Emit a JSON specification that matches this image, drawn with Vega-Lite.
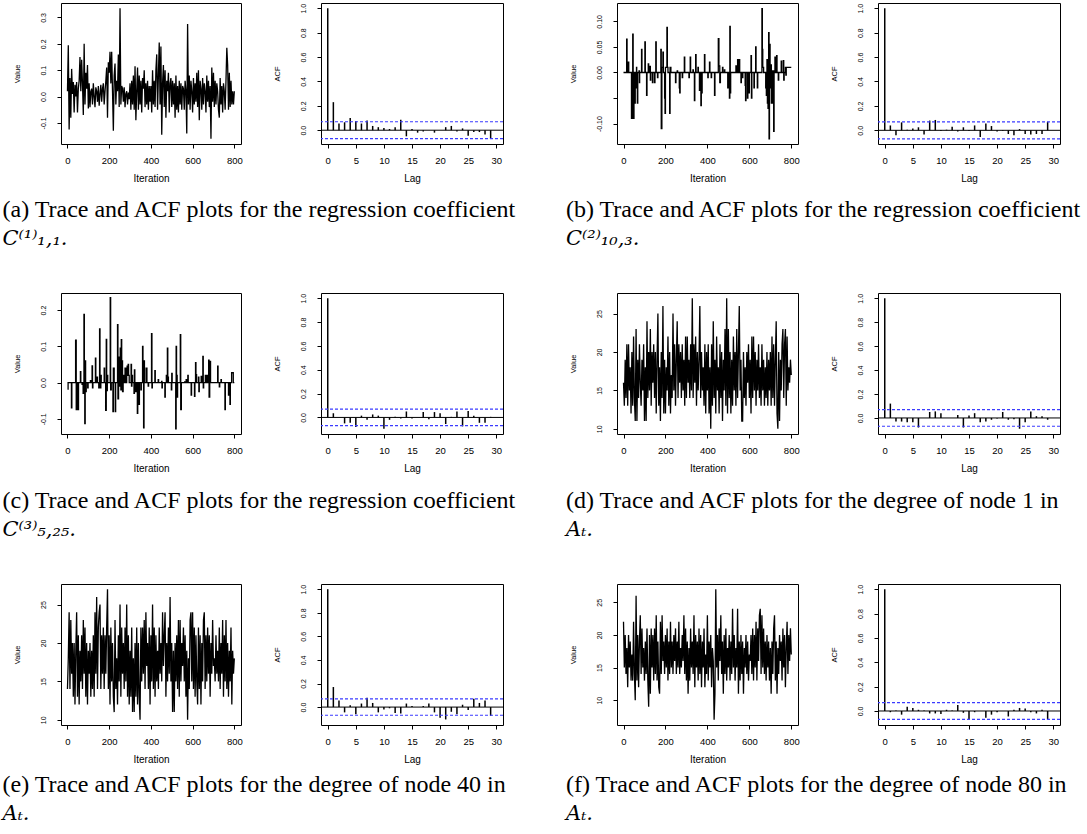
{"$schema":"https://vega.github.io/schema/vega-lite/v6.json","background":"white","padding":{"left":2,"top":2,"right":2,"bottom":2},"columns":2,"align":"each","spacing":{"row":43,"column":47},
"concat":[
{"hconcat":[
{"width":180,"height":141,"data":{"name":"ta"},"mark":{"type":"line","color":"black","strokeWidth":1.3},"encoding":{"x":{"field":"i","type":"quantitative","scale":{"domain":[-31,832],"nice":false,"zero":false},"axis":{"title":"Iteration","values":[0,200,400,600,800]}},"y":{"field":"v","type":"quantitative","scale":{"domain":[-0.18,0.355],"nice":false,"zero":false},"axis":{"title":"Value","values":[-0.1,0,0.1,0.2,0.3],"format":".1f","labelExpr":"replace(datum.label,'−','-')"}}}},
{"width":182,"height":141,"resolve":{"axis":{"y":"independent"}},"layer":[
{"data":{"name":"aa"},"mark":{"type":"rule","color":"black","strokeWidth":1.5},"encoding":{"x":{"field":"lag","type":"quantitative","scale":{"domain":[-1.2,31.2],"nice":false,"zero":false},"axis":{"title":"Lag","values":[0,5,10,15,20,25,30]}},"y":{"field":"r","type":"quantitative","scale":{"domain":[-0.113,1.043],"nice":false,"zero":false},"axis":{"title":"ACF","values":[0,0.2,0.4,0.6,0.8,1],"format":".1f","labelOverlap":false}},"y2":{"datum":0}}},
{"data":{"values":[{"c":0.0693},{"c":-0.0693}]},"mark":{"type":"rule","color":"#3b3bff","strokeDash":[3,2],"strokeWidth":1.2},"encoding":{"y":{"field":"c","type":"quantitative","scale":{"domain":[-0.113,1.043],"nice":false,"zero":false},"axis":null}}},
{"data":{"values":[{}]},"mark":{"type":"rule","color":"black","strokeWidth":1},"encoding":{"y":{"datum":0,"type":"quantitative","scale":{"domain":[-0.113,1.043],"nice":false,"zero":false},"axis":null}}}]}],
"spacing":29,"title":{"text":"(a) Trace and ACF plots for the regression coefficient","subtitle":"C⁽¹⁾₁,₁.","orient":"bottom","anchor":"start","dx":-10,"offset":14}},
{"hconcat":[
{"width":181,"height":141,"data":{"name":"tb"},"mark":{"type":"line","color":"black","strokeWidth":1.3,"interpolate":"step-after"},"encoding":{"x":{"field":"i","type":"quantitative","scale":{"domain":[-31,832],"nice":false,"zero":false},"axis":{"title":"Iteration","values":[0,200,400,600,800]}},"y":{"field":"v","type":"quantitative","scale":{"domain":[-0.14,0.136],"nice":false,"zero":false},"axis":{"title":"Value","values":[-0.1,-0.05,0,0.05,0.1],"format":".2f","labelExpr":"datum.value == -0.05 ? '' : replace(datum.label,'−','-')"}}}},
{"width":182,"height":141,"resolve":{"axis":{"y":"independent"}},"layer":[
{"data":{"name":"ab"},"mark":{"type":"rule","color":"black","strokeWidth":1.5},"encoding":{"x":{"field":"lag","type":"quantitative","scale":{"domain":[-1.2,31.2],"nice":false,"zero":false},"axis":{"title":"Lag","values":[0,5,10,15,20,25,30]}},"y":{"field":"r","type":"quantitative","scale":{"domain":[-0.112,1.043],"nice":false,"zero":false},"axis":{"title":"ACF","values":[0,0.2,0.4,0.6,0.8,1],"format":".1f","labelOverlap":false}},"y2":{"datum":0}}},
{"data":{"values":[{"c":0.0693},{"c":-0.0693}]},"mark":{"type":"rule","color":"#3b3bff","strokeDash":[3,2],"strokeWidth":1.2},"encoding":{"y":{"field":"c","type":"quantitative","scale":{"domain":[-0.112,1.043],"nice":false,"zero":false},"axis":null}}},
{"data":{"values":[{}]},"mark":{"type":"rule","color":"black","strokeWidth":1},"encoding":{"y":{"datum":0,"type":"quantitative","scale":{"domain":[-0.112,1.043],"nice":false,"zero":false},"axis":null}}}]}],
"spacing":29,"title":{"text":"(b) Trace and ACF plots for the regression coefficient","subtitle":"C⁽²⁾₁₀,₃.","orient":"bottom","anchor":"start","dx":-2.5,"offset":14}},
{"hconcat":[
{"width":180,"height":141,"data":{"name":"tc"},"mark":{"type":"line","color":"black","strokeWidth":1.3,"interpolate":"step-after"},"encoding":{"x":{"field":"i","type":"quantitative","scale":{"domain":[-31,832],"nice":false,"zero":false},"axis":{"title":"Iteration","values":[0,200,400,600,800]}},"y":{"field":"v","type":"quantitative","scale":{"domain":[-0.142,0.247],"nice":false,"zero":false},"axis":{"title":"Value","values":[-0.1,0,0.1,0.2],"format":".1f","labelExpr":"replace(datum.label,'−','-')"}}}},
{"width":182,"height":141,"resolve":{"axis":{"y":"independent"}},"layer":[
{"data":{"name":"ac"},"mark":{"type":"rule","color":"black","strokeWidth":1.5},"encoding":{"x":{"field":"lag","type":"quantitative","scale":{"domain":[-1.2,31.2],"nice":false,"zero":false},"axis":{"title":"Lag","values":[0,5,10,15,20,25,30]}},"y":{"field":"r","type":"quantitative","scale":{"domain":[-0.139,1.044],"nice":false,"zero":false},"axis":{"title":"ACF","values":[0,0.2,0.4,0.6,0.8,1],"format":".1f","labelOverlap":false}},"y2":{"datum":0}}},
{"data":{"values":[{"c":0.0693},{"c":-0.0693}]},"mark":{"type":"rule","color":"#3b3bff","strokeDash":[3,2],"strokeWidth":1.2},"encoding":{"y":{"field":"c","type":"quantitative","scale":{"domain":[-0.139,1.044],"nice":false,"zero":false},"axis":null}}},
{"data":{"values":[{}]},"mark":{"type":"rule","color":"black","strokeWidth":1},"encoding":{"y":{"datum":0,"type":"quantitative","scale":{"domain":[-0.139,1.044],"nice":false,"zero":false},"axis":null}}}]}],
"spacing":29,"title":{"text":"(c) Trace and ACF plots for the regression coefficient","subtitle":"C⁽³⁾₅,₂₅.","orient":"bottom","anchor":"start","dx":-10,"offset":15}},
{"hconcat":[
{"width":181,"height":141,"data":{"name":"td"},"mark":{"type":"line","color":"black","strokeWidth":1.3},"encoding":{"x":{"field":"i","type":"quantitative","scale":{"domain":[-31,832],"nice":false,"zero":false},"axis":{"title":"Iteration","values":[0,200,400,600,800]}},"y":{"field":"v","type":"quantitative","scale":{"domain":[9.32,27.68],"nice":false,"zero":false},"axis":{"title":"Value","values":[10,15,20,25]}}}},
{"width":182,"height":141,"resolve":{"axis":{"y":"independent"}},"layer":[
{"data":{"name":"ad"},"mark":{"type":"rule","color":"black","strokeWidth":1.5},"encoding":{"x":{"field":"lag","type":"quantitative","scale":{"domain":[-1.2,31.2],"nice":false,"zero":false},"axis":{"title":"Lag","values":[0,5,10,15,20,25,30]}},"y":{"field":"r","type":"quantitative","scale":{"domain":[-0.134,1.044],"nice":false,"zero":false},"axis":{"title":"ACF","values":[0,0.2,0.4,0.6,0.8,1],"format":".1f","labelOverlap":false}},"y2":{"datum":0}}},
{"data":{"values":[{"c":0.0693},{"c":-0.0693}]},"mark":{"type":"rule","color":"#3b3bff","strokeDash":[3,2],"strokeWidth":1.2},"encoding":{"y":{"field":"c","type":"quantitative","scale":{"domain":[-0.134,1.044],"nice":false,"zero":false},"axis":null}}},
{"data":{"values":[{}]},"mark":{"type":"rule","color":"black","strokeWidth":1},"encoding":{"y":{"datum":0,"type":"quantitative","scale":{"domain":[-0.134,1.044],"nice":false,"zero":false},"axis":null}}}]}],
"spacing":29,"title":{"text":"(d) Trace and ACF plots for the degree of node 1 in","subtitle":"Aₜ.","orient":"bottom","anchor":"start","dx":-2.5,"offset":15}},
{"hconcat":[
{"width":180,"height":141,"data":{"name":"te"},"mark":{"type":"line","color":"black","strokeWidth":1.3},"encoding":{"x":{"field":"i","type":"quantitative","scale":{"domain":[-31,832],"nice":false,"zero":false},"axis":{"title":"Iteration","values":[0,200,400,600,800]}},"y":{"field":"v","type":"quantitative","scale":{"domain":[9.32,27.68],"nice":false,"zero":false},"axis":{"title":"Value","values":[10,15,20,25]}}}},
{"width":182,"height":141,"resolve":{"axis":{"y":"independent"}},"layer":[
{"data":{"name":"ae"},"mark":{"type":"rule","color":"black","strokeWidth":1.5},"encoding":{"x":{"field":"lag","type":"quantitative","scale":{"domain":[-1.2,31.2],"nice":false,"zero":false},"axis":{"title":"Lag","values":[0,5,10,15,20,25,30]}},"y":{"field":"r","type":"quantitative","scale":{"domain":[-0.152,1.044],"nice":false,"zero":false},"axis":{"title":"ACF","values":[0,0.2,0.4,0.6,0.8,1],"format":".1f","labelOverlap":false}},"y2":{"datum":0}}},
{"data":{"values":[{"c":0.0693},{"c":-0.0693}]},"mark":{"type":"rule","color":"#3b3bff","strokeDash":[3,2],"strokeWidth":1.2},"encoding":{"y":{"field":"c","type":"quantitative","scale":{"domain":[-0.152,1.044],"nice":false,"zero":false},"axis":null}}},
{"data":{"values":[{}]},"mark":{"type":"rule","color":"black","strokeWidth":1},"encoding":{"y":{"datum":0,"type":"quantitative","scale":{"domain":[-0.152,1.044],"nice":false,"zero":false},"axis":null}}}]}],
"spacing":29,"title":{"text":"(e) Trace and ACF plots for the degree of node 40 in","subtitle":"Aₜ.","orient":"bottom","anchor":"start","dx":-10,"offset":8}},
{"hconcat":[
{"width":181,"height":141,"data":{"name":"tf"},"mark":{"type":"line","color":"black","strokeWidth":1.3},"encoding":{"x":{"field":"i","type":"quantitative","scale":{"domain":[-31,832],"nice":false,"zero":false},"axis":{"title":"Iteration","values":[0,200,400,600,800]}},"y":{"field":"v","type":"quantitative","scale":{"domain":[6.2,27.8],"nice":false,"zero":false},"axis":{"title":"Value","values":[10,15,20,25]}}}},
{"width":182,"height":141,"resolve":{"axis":{"y":"independent"}},"layer":[
{"data":{"name":"af"},"mark":{"type":"rule","color":"black","strokeWidth":1.5},"encoding":{"x":{"field":"lag","type":"quantitative","scale":{"domain":[-1.2,31.2],"nice":false,"zero":false},"axis":{"title":"Lag","values":[0,5,10,15,20,25,30]}},"y":{"field":"r","type":"quantitative","scale":{"domain":[-0.115,1.043],"nice":false,"zero":false},"axis":{"title":"ACF","values":[0,0.2,0.4,0.6,0.8,1],"format":".1f","labelOverlap":false}},"y2":{"datum":0}}},
{"data":{"values":[{"c":0.0693},{"c":-0.0693}]},"mark":{"type":"rule","color":"#3b3bff","strokeDash":[3,2],"strokeWidth":1.2},"encoding":{"y":{"field":"c","type":"quantitative","scale":{"domain":[-0.115,1.043],"nice":false,"zero":false},"axis":null}}},
{"data":{"values":[{}]},"mark":{"type":"rule","color":"black","strokeWidth":1},"encoding":{"y":{"datum":0,"type":"quantitative","scale":{"domain":[-0.115,1.043],"nice":false,"zero":false},"axis":null}}}]}],
"spacing":29,"title":{"text":"(f) Trace and ACF plots for the degree of node 80 in","subtitle":"Aₜ.","orient":"bottom","anchor":"start","dx":-2.5,"offset":8}}
],
"datasets":{
"ta":[{"i":0,"v":0.02},{"i":4,"v":0.195},{"i":8,"v":-0.125},{"i":12,"v":0.07},{"i":16,"v":-0.08},{"i":20,"v":0.105},{"i":24,"v":0.01},{"i":28,"v":0.055},{"i":32,"v":-0.06},{"i":36,"v":0.045},{"i":40,"v":0.0},{"i":44,"v":0.055},{"i":48,"v":-0.06},{"i":52,"v":0.03},{"i":56,"v":0.06},{"i":60,"v":0.15},{"i":64,"v":0.02},{"i":68,"v":0.14},{"i":72,"v":0.05},{"i":76,"v":-0.07},{"i":80,"v":0.2},{"i":84,"v":-0.03},{"i":88,"v":0.09},{"i":92,"v":0.03},{"i":96,"v":0.12},{"i":100,"v":-0.045},{"i":104,"v":0.05},{"i":108,"v":-0.04},{"i":112,"v":0.02},{"i":116,"v":0.03},{"i":120,"v":-0.03},{"i":124,"v":0.05},{"i":128,"v":0.0},{"i":132,"v":-0.04},{"i":136,"v":0.035},{"i":140,"v":0.02},{"i":144,"v":-0.02},{"i":148,"v":0.04},{"i":152,"v":-0.035},{"i":156,"v":0.01},{"i":160,"v":0.045},{"i":164,"v":-0.02},{"i":168,"v":0.03},{"i":172,"v":0.05},{"i":176,"v":-0.03},{"i":180,"v":0.02},{"i":184,"v":0.06},{"i":188,"v":0.11},{"i":192,"v":-0.08},{"i":196,"v":0.13},{"i":200,"v":0.09},{"i":204,"v":0.17},{"i":208,"v":0.05},{"i":212,"v":0.17},{"i":216,"v":0.02},{"i":220,"v":-0.13},{"i":224,"v":0.08},{"i":228,"v":0.125},{"i":232,"v":-0.03},{"i":236,"v":0.06},{"i":240,"v":0.02},{"i":244,"v":0.16},{"i":248,"v":-0.04},{"i":252,"v":0.335},{"i":256,"v":-0.03},{"i":260,"v":0.04},{"i":264,"v":0.03},{"i":268,"v":-0.02},{"i":272,"v":0.035},{"i":276,"v":-0.04},{"i":280,"v":0.01},{"i":284,"v":0.02},{"i":288,"v":-0.03},{"i":292,"v":0.015},{"i":296,"v":-0.01},{"i":300,"v":0.05},{"i":304,"v":-0.05},{"i":308,"v":0.06},{"i":312,"v":-0.03},{"i":316,"v":0.08},{"i":320,"v":-0.05},{"i":324,"v":0.115},{"i":328,"v":-0.09},{"i":332,"v":0.02},{"i":336,"v":0.11},{"i":340,"v":-0.05},{"i":344,"v":0.08},{"i":348,"v":-0.03},{"i":352,"v":0.06},{"i":356,"v":-0.06},{"i":360,"v":0.07},{"i":364,"v":0.03},{"i":368,"v":0.1},{"i":372,"v":-0.04},{"i":376,"v":0.05},{"i":380,"v":-0.03},{"i":384,"v":0.06},{"i":388,"v":-0.05},{"i":392,"v":0.04},{"i":396,"v":-0.02},{"i":400,"v":0.04},{"i":404,"v":-0.06},{"i":408,"v":0.1},{"i":412,"v":-0.03},{"i":416,"v":0.06},{"i":420,"v":-0.04},{"i":424,"v":0.1},{"i":428,"v":0.16},{"i":432,"v":-0.05},{"i":436,"v":0.08},{"i":440,"v":0.205},{"i":444,"v":-0.03},{"i":448,"v":0.19},{"i":452,"v":-0.145},{"i":456,"v":0.05},{"i":460,"v":0.12},{"i":464,"v":-0.04},{"i":468,"v":0.1},{"i":472,"v":-0.08},{"i":476,"v":0.06},{"i":480,"v":0.02},{"i":484,"v":0.09},{"i":488,"v":-0.06},{"i":492,"v":0.05},{"i":496,"v":0.07},{"i":500,"v":-0.04},{"i":504,"v":0.06},{"i":508,"v":-0.03},{"i":512,"v":0.05},{"i":516,"v":-0.08},{"i":520,"v":0.08},{"i":524,"v":-0.05},{"i":528,"v":0.04},{"i":532,"v":-0.06},{"i":536,"v":0.06},{"i":540,"v":-0.03},{"i":544,"v":0.05},{"i":548,"v":-0.05},{"i":552,"v":0.04},{"i":556,"v":0.03},{"i":560,"v":-0.05},{"i":564,"v":0.06},{"i":568,"v":0.02},{"i":572,"v":-0.14},{"i":576,"v":0.275},{"i":580,"v":-0.03},{"i":584,"v":0.08},{"i":588,"v":-0.05},{"i":592,"v":0.06},{"i":596,"v":0.02},{"i":600,"v":-0.06},{"i":604,"v":0.07},{"i":608,"v":-0.03},{"i":612,"v":0.05},{"i":616,"v":-0.02},{"i":620,"v":0.09},{"i":624,"v":-0.04},{"i":628,"v":0.1},{"i":632,"v":-0.09},{"i":636,"v":0.06},{"i":640,"v":0.03},{"i":644,"v":-0.05},{"i":648,"v":0.07},{"i":652,"v":-0.03},{"i":656,"v":0.05},{"i":660,"v":0.02},{"i":664,"v":-0.06},{"i":668,"v":0.08},{"i":672,"v":-0.02},{"i":676,"v":0.06},{"i":680,"v":-0.04},{"i":684,"v":0.04},{"i":688,"v":-0.16},{"i":692,"v":0.11},{"i":696,"v":-0.02},{"i":700,"v":0.09},{"i":704,"v":-0.04},{"i":708,"v":0.06},{"i":712,"v":-0.03},{"i":716,"v":0.05},{"i":720,"v":0.02},{"i":724,"v":-0.05},{"i":728,"v":-0.08},{"i":732,"v":0.07},{"i":736,"v":-0.03},{"i":740,"v":0.04},{"i":744,"v":-0.06},{"i":748,"v":0.05},{"i":752,"v":0.02},{"i":756,"v":-0.05},{"i":760,"v":0.06},{"i":764,"v":0.185},{"i":768,"v":0.12},{"i":772,"v":-0.05},{"i":776,"v":0.09},{"i":780,"v":-0.04},{"i":784,"v":0.06},{"i":788,"v":-0.03},{"i":792,"v":0.02},{"i":796,"v":-0.03},{"i":800,"v":0.02}],
"tb":[{"i":0,"v":0},{"i":15,"v":0.065},{"i":17,"v":0},{"i":23,"v":0.02},{"i":25,"v":0},{"i":38,"v":-0.09},{"i":44,"v":0.075},{"i":46,"v":-0.09},{"i":50,"v":0},{"i":54,"v":-0.06},{"i":56,"v":-0.03},{"i":58,"v":0},{"i":62,"v":0.01},{"i":63,"v":-0.03},{"i":64,"v":0},{"i":66,"v":-0.06},{"i":68,"v":0},{"i":74,"v":0.003},{"i":76,"v":-0.02},{"i":77,"v":0},{"i":86,"v":0.045},{"i":88,"v":0},{"i":102,"v":0.06},{"i":104,"v":0},{"i":110,"v":-0.045},{"i":112,"v":0},{"i":118,"v":0.017},{"i":120,"v":0},{"i":126,"v":0.012},{"i":128,"v":-0.015},{"i":130,"v":0},{"i":138,"v":-0.02},{"i":140,"v":0},{"i":148,"v":-0.02},{"i":150,"v":0},{"i":154,"v":0.06},{"i":156,"v":0},{"i":162,"v":-0.01},{"i":164,"v":0},{"i":178,"v":0.045},{"i":180,"v":-0.11},{"i":183,"v":0.01},{"i":188,"v":0.04},{"i":190,"v":0},{"i":196,"v":-0.05},{"i":198,"v":-0.08},{"i":200,"v":0.01},{"i":207,"v":0.088},{"i":209,"v":0.01},{"i":212,"v":0},{"i":220,"v":-0.08},{"i":222,"v":0.01},{"i":226,"v":0},{"i":248,"v":-0.02},{"i":250,"v":0},{"i":256,"v":0.003},{"i":258,"v":0},{"i":266,"v":-0.03},{"i":268,"v":-0.04},{"i":270,"v":0},{"i":280,"v":-0.01},{"i":282,"v":0},{"i":290,"v":0.03},{"i":292,"v":0},{"i":312,"v":-0.01},{"i":314,"v":0},{"i":318,"v":0.03},{"i":320,"v":0},{"i":331,"v":0.005},{"i":333,"v":0},{"i":338,"v":-0.055},{"i":340,"v":0},{"i":344,"v":0.035},{"i":346,"v":0},{"i":355,"v":0.01},{"i":357,"v":0},{"i":362,"v":-0.035},{"i":364,"v":0},{"i":369,"v":-0.065},{"i":371,"v":-0.04},{"i":375,"v":0},{"i":386,"v":0.035},{"i":388,"v":0},{"i":402,"v":-0.01},{"i":404,"v":0},{"i":410,"v":0.02},{"i":412,"v":0},{"i":418,"v":-0.01},{"i":420,"v":0},{"i":434,"v":-0.045},{"i":436,"v":0},{"i":452,"v":0.066},{"i":455,"v":0.013},{"i":459,"v":-0.02},{"i":462,"v":0},{"i":472,"v":0.01},{"i":474,"v":0},{"i":481,"v":0.005},{"i":483,"v":0},{"i":497,"v":-0.03},{"i":499,"v":0},{"i":505,"v":-0.05},{"i":507,"v":0.09},{"i":509,"v":-0.04},{"i":511,"v":0},{"i":536,"v":0.013},{"i":538,"v":0},{"i":544,"v":0.025},{"i":546,"v":0},{"i":552,"v":0.025},{"i":554,"v":0},{"i":560,"v":-0.02},{"i":562,"v":0},{"i":567,"v":-0.01},{"i":569,"v":0},{"i":580,"v":-0.025},{"i":582,"v":-0.055},{"i":584,"v":0},{"i":591,"v":-0.05},{"i":593,"v":0},{"i":598,"v":-0.04},{"i":600,"v":0},{"i":608,"v":0.033},{"i":610,"v":-0.05},{"i":612,"v":0},{"i":622,"v":-0.03},{"i":624,"v":0},{"i":630,"v":0.05},{"i":632,"v":0},{"i":638,"v":-0.03},{"i":640,"v":0},{"i":660,"v":0.125},{"i":662,"v":0.045},{"i":664,"v":0.01},{"i":668,"v":0},{"i":678,"v":-0.03},{"i":681,"v":-0.045},{"i":684,"v":0.025},{"i":686,"v":-0.06},{"i":689,"v":-0.07},{"i":692,"v":0.078},{"i":694,"v":-0.13},{"i":696,"v":0.055},{"i":699,"v":-0.03},{"i":702,"v":0.015},{"i":705,"v":-0.06},{"i":710,"v":0.003},{"i":716,"v":-0.115},{"i":718,"v":0},{"i":722,"v":0.03},{"i":725,"v":0},{"i":730,"v":0.033},{"i":732,"v":0},{"i":738,"v":-0.015},{"i":740,"v":0},{"i":752,"v":0.022},{"i":754,"v":0},{"i":762,"v":0.023},{"i":764,"v":-0.015},{"i":766,"v":0},{"i":772,"v":0.01},{"i":774,"v":-0.005},{"i":776,"v":0.01},{"i":800,"v":0.01}],
"tc":[{"i":0,"v":-0.018},{"i":3,"v":0},{"i":19,"v":-0.07},{"i":21,"v":0},{"i":39,"v":0.117},{"i":42,"v":-0.075},{"i":46,"v":0},{"i":50,"v":-0.075},{"i":53,"v":0},{"i":62,"v":0.03},{"i":64,"v":0},{"i":70,"v":-0.005},{"i":72,"v":0},{"i":75,"v":-0.03},{"i":77,"v":0},{"i":79,"v":0.188},{"i":81,"v":-0.01},{"i":83,"v":-0.113},{"i":85,"v":0.06},{"i":87,"v":-0.025},{"i":90,"v":0},{"i":97,"v":-0.015},{"i":99,"v":0},{"i":110,"v":0.005},{"i":112,"v":0},{"i":118,"v":0.046},{"i":120,"v":-0.015},{"i":122,"v":0},{"i":134,"v":0.067},{"i":136,"v":0},{"i":142,"v":0.015},{"i":144,"v":0},{"i":150,"v":-0.015},{"i":152,"v":0},{"i":154,"v":0.148},{"i":156,"v":0.02},{"i":158,"v":-0.015},{"i":160,"v":0.02},{"i":162,"v":0},{"i":176,"v":0.04},{"i":178,"v":0},{"i":183,"v":-0.077},{"i":186,"v":0.119},{"i":188,"v":-0.022},{"i":191,"v":0.02},{"i":193,"v":0},{"i":205,"v":0.234},{"i":207,"v":-0.02},{"i":210,"v":0},{"i":218,"v":-0.08},{"i":220,"v":0.04},{"i":224,"v":0},{"i":229,"v":-0.08},{"i":231,"v":0},{"i":240,"v":0.16},{"i":242,"v":-0.045},{"i":245,"v":0.07},{"i":248,"v":-0.01},{"i":250,"v":0.07},{"i":253,"v":0.095},{"i":256,"v":-0.02},{"i":258,"v":0.118},{"i":260,"v":-0.015},{"i":262,"v":0.06},{"i":264,"v":-0.025},{"i":267,"v":0.02},{"i":270,"v":0},{"i":276,"v":0.04},{"i":278,"v":0},{"i":284,"v":0.04},{"i":286,"v":0.045},{"i":288,"v":0.02},{"i":291,"v":0.05},{"i":293,"v":0.02},{"i":296,"v":0},{"i":305,"v":0.05},{"i":307,"v":-0.01},{"i":309,"v":0.02},{"i":312,"v":0},{"i":319,"v":-0.03},{"i":321,"v":0.035},{"i":323,"v":0},{"i":327,"v":-0.025},{"i":329,"v":0},{"i":335,"v":-0.085},{"i":337,"v":-0.05},{"i":339,"v":0},{"i":343,"v":-0.06},{"i":345,"v":0},{"i":352,"v":-0.02},{"i":354,"v":0},{"i":360,"v":0.1},{"i":362,"v":0},{"i":365,"v":-0.125},{"i":367,"v":0.06},{"i":369,"v":0.04},{"i":371,"v":0},{"i":379,"v":0.04},{"i":381,"v":0},{"i":387,"v":-0.01},{"i":389,"v":0},{"i":403,"v":0.135},{"i":405,"v":-0.015},{"i":407,"v":0},{"i":419,"v":0.033},{"i":421,"v":0},{"i":435,"v":0.008},{"i":437,"v":0},{"i":451,"v":0.003},{"i":453,"v":-0.015},{"i":455,"v":0},{"i":467,"v":-0.04},{"i":469,"v":0},{"i":474,"v":0.02},{"i":476,"v":0},{"i":479,"v":0.095},{"i":481,"v":0.015},{"i":484,"v":0},{"i":498,"v":-0.02},{"i":500,"v":0.025},{"i":502,"v":0},{"i":519,"v":-0.128},{"i":521,"v":0.1},{"i":523,"v":0.02},{"i":526,"v":-0.04},{"i":528,"v":0},{"i":541,"v":0.132},{"i":543,"v":-0.075},{"i":546,"v":0},{"i":562,"v":0.002},{"i":564,"v":0},{"i":569,"v":0.008},{"i":571,"v":0},{"i":577,"v":0.02},{"i":579,"v":0},{"i":593,"v":-0.035},{"i":595,"v":0},{"i":609,"v":-0.038},{"i":611,"v":0},{"i":614,"v":0.055},{"i":616,"v":0.022},{"i":619,"v":0},{"i":628,"v":0.015},{"i":630,"v":-0.025},{"i":632,"v":0},{"i":641,"v":0.017},{"i":643,"v":0},{"i":649,"v":0.072},{"i":651,"v":-0.015},{"i":653,"v":0},{"i":661,"v":0.02},{"i":663,"v":0},{"i":669,"v":0.02},{"i":671,"v":0},{"i":677,"v":0.062},{"i":679,"v":-0.04},{"i":682,"v":0},{"i":684,"v":0.058},{"i":686,"v":0},{"i":720,"v":0.045},{"i":722,"v":0},{"i":728,"v":-0.012},{"i":730,"v":0},{"i":736,"v":0.008},{"i":738,"v":0},{"i":755,"v":-0.075},{"i":757,"v":0},{"i":772,"v":-0.035},{"i":774,"v":0},{"i":779,"v":-0.06},{"i":781,"v":0},{"i":787,"v":0.027},{"i":795,"v":0},{"i":800,"v":0}],
"td":[{"i":0,"v":16},{"i":4,"v":13},{"i":8,"v":19},{"i":12,"v":14},{"i":16,"v":21},{"i":20,"v":13},{"i":24,"v":21},{"i":28,"v":15},{"i":32,"v":18},{"i":36,"v":12},{"i":40,"v":20},{"i":44,"v":13},{"i":48,"v":22},{"i":52,"v":14},{"i":56,"v":11},{"i":60,"v":23},{"i":64,"v":11},{"i":68,"v":19},{"i":72,"v":14},{"i":76,"v":21},{"i":80,"v":16},{"i":84,"v":13},{"i":88,"v":19},{"i":92,"v":15},{"i":96,"v":21},{"i":100,"v":11},{"i":104,"v":18},{"i":108,"v":11},{"i":112,"v":24},{"i":116,"v":14},{"i":120,"v":20},{"i":124,"v":15},{"i":128,"v":23},{"i":132,"v":13},{"i":136,"v":20},{"i":140,"v":16},{"i":144,"v":21},{"i":148,"v":14},{"i":152,"v":20},{"i":156,"v":12},{"i":160,"v":19},{"i":164,"v":25},{"i":168,"v":13},{"i":172,"v":18},{"i":176,"v":11},{"i":180,"v":20},{"i":184,"v":14},{"i":188,"v":26},{"i":192,"v":12},{"i":196,"v":19},{"i":200,"v":12},{"i":204,"v":18},{"i":208,"v":15},{"i":212,"v":22},{"i":216,"v":13},{"i":220,"v":20},{"i":224,"v":12},{"i":228,"v":17},{"i":232,"v":14},{"i":236,"v":25},{"i":240,"v":15},{"i":244,"v":21},{"i":248,"v":13},{"i":252,"v":19},{"i":256,"v":24},{"i":260,"v":14},{"i":264,"v":21},{"i":268,"v":16},{"i":272,"v":20},{"i":276,"v":14},{"i":280,"v":21},{"i":284,"v":15},{"i":288,"v":19},{"i":292,"v":13},{"i":296,"v":22},{"i":300,"v":14},{"i":304,"v":22},{"i":308,"v":16},{"i":312,"v":19},{"i":316,"v":14},{"i":320,"v":21},{"i":324,"v":15},{"i":328,"v":27},{"i":332,"v":14},{"i":336,"v":21},{"i":340,"v":16},{"i":344,"v":22},{"i":348,"v":13},{"i":352,"v":20},{"i":356,"v":15},{"i":360,"v":19},{"i":364,"v":26},{"i":368,"v":14},{"i":372,"v":20},{"i":376,"v":15},{"i":380,"v":18},{"i":384,"v":13},{"i":388,"v":21},{"i":392,"v":12},{"i":396,"v":20},{"i":400,"v":15},{"i":404,"v":21},{"i":408,"v":12},{"i":412,"v":18},{"i":416,"v":10},{"i":420,"v":21},{"i":424,"v":13},{"i":428,"v":24},{"i":432,"v":14},{"i":436,"v":19},{"i":440,"v":12},{"i":444,"v":22},{"i":448,"v":15},{"i":452,"v":18},{"i":456,"v":12},{"i":460,"v":21},{"i":464,"v":14},{"i":468,"v":20},{"i":472,"v":11},{"i":476,"v":19},{"i":480,"v":15},{"i":484,"v":23},{"i":488,"v":13},{"i":492,"v":27},{"i":496,"v":12},{"i":500,"v":23},{"i":504,"v":14},{"i":508,"v":20},{"i":512,"v":12},{"i":516,"v":19},{"i":520,"v":13},{"i":524,"v":22},{"i":528,"v":15},{"i":532,"v":20},{"i":536,"v":13},{"i":540,"v":23},{"i":544,"v":14},{"i":548,"v":20},{"i":552,"v":26},{"i":556,"v":15},{"i":560,"v":19},{"i":564,"v":11},{"i":568,"v":11},{"i":572,"v":20},{"i":576,"v":14},{"i":580,"v":18},{"i":584,"v":13},{"i":588,"v":20},{"i":592,"v":16},{"i":596,"v":21},{"i":600,"v":14},{"i":604,"v":19},{"i":608,"v":12},{"i":612,"v":22},{"i":616,"v":14},{"i":620,"v":22},{"i":624,"v":15},{"i":628,"v":20},{"i":632,"v":13},{"i":636,"v":19},{"i":640,"v":15},{"i":644,"v":21},{"i":648,"v":14},{"i":652,"v":18},{"i":656,"v":13},{"i":660,"v":21},{"i":664,"v":15},{"i":668,"v":19},{"i":672,"v":13},{"i":676,"v":18},{"i":680,"v":14},{"i":684,"v":20},{"i":688,"v":13},{"i":692,"v":19},{"i":696,"v":15},{"i":700,"v":20},{"i":704,"v":13},{"i":708,"v":22},{"i":712,"v":14},{"i":716,"v":21},{"i":720,"v":13},{"i":724,"v":19},{"i":728,"v":24},{"i":732,"v":12},{"i":736,"v":10},{"i":740,"v":20},{"i":744,"v":11},{"i":748,"v":19},{"i":752,"v":15},{"i":756,"v":21},{"i":760,"v":23},{"i":764,"v":14},{"i":768,"v":21},{"i":772,"v":23},{"i":776,"v":13},{"i":780,"v":22},{"i":784,"v":15},{"i":788,"v":18},{"i":792,"v":16},{"i":796,"v":19},{"i":800,"v":17}],
"te":[{"i":0,"v":14},{"i":4,"v":18},{"i":8,"v":24},{"i":12,"v":14},{"i":16,"v":23},{"i":20,"v":16},{"i":24,"v":20},{"i":28,"v":13},{"i":32,"v":20},{"i":36,"v":12},{"i":40,"v":19},{"i":44,"v":24},{"i":48,"v":13},{"i":52,"v":21},{"i":56,"v":12},{"i":60,"v":19},{"i":64,"v":15},{"i":68,"v":21},{"i":72,"v":14},{"i":76,"v":23},{"i":80,"v":16},{"i":84,"v":22},{"i":88,"v":13},{"i":92,"v":20},{"i":96,"v":12},{"i":100,"v":19},{"i":104,"v":16},{"i":108,"v":20},{"i":112,"v":13},{"i":116,"v":19},{"i":120,"v":14},{"i":124,"v":21},{"i":128,"v":13},{"i":132,"v":24},{"i":136,"v":16},{"i":140,"v":26},{"i":144,"v":14},{"i":148,"v":22},{"i":152,"v":24},{"i":156,"v":25},{"i":160,"v":14},{"i":164,"v":21},{"i":168,"v":16},{"i":172,"v":22},{"i":176,"v":14},{"i":180,"v":21},{"i":184,"v":16},{"i":188,"v":22},{"i":192,"v":27},{"i":196,"v":14},{"i":200,"v":21},{"i":204,"v":12},{"i":208,"v":22},{"i":212,"v":15},{"i":216,"v":20},{"i":220,"v":13},{"i":224,"v":11},{"i":228,"v":23},{"i":232,"v":14},{"i":236,"v":18},{"i":240,"v":12},{"i":244,"v":21},{"i":248,"v":15},{"i":252,"v":25},{"i":256,"v":13},{"i":260,"v":22},{"i":264,"v":16},{"i":268,"v":20},{"i":272,"v":14},{"i":276,"v":22},{"i":280,"v":15},{"i":284,"v":25},{"i":288,"v":13},{"i":292,"v":21},{"i":296,"v":12},{"i":300,"v":19},{"i":304,"v":13},{"i":308,"v":22},{"i":312,"v":11},{"i":316,"v":18},{"i":320,"v":11},{"i":324,"v":20},{"i":328,"v":13},{"i":332,"v":22},{"i":336,"v":12},{"i":340,"v":20},{"i":344,"v":13},{"i":348,"v":10},{"i":352,"v":22},{"i":356,"v":15},{"i":360,"v":22},{"i":364,"v":16},{"i":368,"v":23},{"i":372,"v":14},{"i":376,"v":24},{"i":380,"v":17},{"i":384,"v":20},{"i":388,"v":14},{"i":392,"v":22},{"i":396,"v":12},{"i":400,"v":21},{"i":404,"v":15},{"i":408,"v":25},{"i":412,"v":14},{"i":416,"v":22},{"i":420,"v":13},{"i":424,"v":21},{"i":428,"v":15},{"i":432,"v":19},{"i":436,"v":14},{"i":440,"v":22},{"i":444,"v":16},{"i":448,"v":20},{"i":452,"v":15},{"i":456,"v":24},{"i":460,"v":17},{"i":464,"v":21},{"i":468,"v":24},{"i":472,"v":13},{"i":476,"v":20},{"i":480,"v":15},{"i":484,"v":22},{"i":488,"v":16},{"i":492,"v":26},{"i":496,"v":15},{"i":500,"v":20},{"i":504,"v":11},{"i":508,"v":19},{"i":512,"v":11},{"i":516,"v":20},{"i":520,"v":15},{"i":524,"v":21},{"i":528,"v":14},{"i":532,"v":23},{"i":536,"v":13},{"i":540,"v":23},{"i":544,"v":15},{"i":548,"v":20},{"i":552,"v":17},{"i":556,"v":22},{"i":560,"v":15},{"i":564,"v":21},{"i":568,"v":13},{"i":572,"v":19},{"i":576,"v":10},{"i":580,"v":18},{"i":584,"v":14},{"i":588,"v":23},{"i":592,"v":24},{"i":596,"v":15},{"i":600,"v":24},{"i":604,"v":14},{"i":608,"v":22},{"i":612,"v":13},{"i":616,"v":21},{"i":620,"v":15},{"i":624,"v":12},{"i":628,"v":22},{"i":632,"v":14},{"i":636,"v":21},{"i":640,"v":12},{"i":644,"v":20},{"i":648,"v":15},{"i":652,"v":23},{"i":656,"v":24},{"i":660,"v":14},{"i":664,"v":21},{"i":668,"v":15},{"i":672,"v":22},{"i":676,"v":16},{"i":680,"v":21},{"i":684,"v":13},{"i":688,"v":20},{"i":692,"v":16},{"i":696,"v":23},{"i":700,"v":17},{"i":704,"v":18},{"i":708,"v":15},{"i":712,"v":21},{"i":716,"v":16},{"i":720,"v":19},{"i":724,"v":15},{"i":728,"v":22},{"i":732,"v":14},{"i":736,"v":20},{"i":740,"v":16},{"i":744,"v":23},{"i":748,"v":13},{"i":752,"v":21},{"i":756,"v":15},{"i":760,"v":23},{"i":764,"v":14},{"i":768,"v":20},{"i":772,"v":13},{"i":776,"v":19},{"i":780,"v":15},{"i":784,"v":22},{"i":788,"v":12},{"i":792,"v":19},{"i":796,"v":16},{"i":800,"v":18}],
"tf":[{"i":0,"v":22},{"i":4,"v":15},{"i":8,"v":20},{"i":12,"v":14},{"i":16,"v":18},{"i":20,"v":12},{"i":24,"v":20},{"i":28,"v":15},{"i":32,"v":19},{"i":36,"v":13},{"i":40,"v":17},{"i":44,"v":13},{"i":48,"v":22},{"i":52,"v":14},{"i":56,"v":10},{"i":60,"v":26},{"i":64,"v":13},{"i":68,"v":20},{"i":72,"v":12},{"i":76,"v":19},{"i":80,"v":23},{"i":84,"v":14},{"i":88,"v":21},{"i":92,"v":15},{"i":96,"v":18},{"i":100,"v":13},{"i":104,"v":19},{"i":108,"v":14},{"i":112,"v":21},{"i":116,"v":13},{"i":120,"v":9},{"i":124,"v":20},{"i":128,"v":11},{"i":132,"v":21},{"i":136,"v":15},{"i":140,"v":20},{"i":144,"v":13},{"i":148,"v":21},{"i":152,"v":14},{"i":156,"v":23},{"i":160,"v":13},{"i":164,"v":19},{"i":168,"v":12},{"i":172,"v":11},{"i":176,"v":22},{"i":180,"v":14},{"i":184,"v":23},{"i":188,"v":16},{"i":192,"v":19},{"i":196,"v":14},{"i":200,"v":20},{"i":204,"v":15},{"i":208,"v":21},{"i":212,"v":13},{"i":216,"v":19},{"i":220,"v":14},{"i":224,"v":22},{"i":228,"v":15},{"i":232,"v":19},{"i":236,"v":14},{"i":240,"v":20},{"i":244,"v":16},{"i":248,"v":21},{"i":252,"v":14},{"i":256,"v":19},{"i":260,"v":15},{"i":264,"v":22},{"i":268,"v":14},{"i":272,"v":18},{"i":276,"v":15},{"i":280,"v":20},{"i":284,"v":16},{"i":288,"v":23},{"i":292,"v":14},{"i":296,"v":21},{"i":300,"v":13},{"i":304,"v":19},{"i":308,"v":11},{"i":312,"v":18},{"i":316,"v":13},{"i":320,"v":21},{"i":324,"v":15},{"i":328,"v":19},{"i":332,"v":14},{"i":336,"v":23},{"i":340,"v":12},{"i":344,"v":20},{"i":348,"v":15},{"i":352,"v":19},{"i":356,"v":13},{"i":360,"v":21},{"i":364,"v":14},{"i":368,"v":20},{"i":372,"v":12},{"i":376,"v":19},{"i":380,"v":15},{"i":384,"v":21},{"i":388,"v":12},{"i":392,"v":17},{"i":396,"v":14},{"i":400,"v":23},{"i":404,"v":13},{"i":408,"v":19},{"i":412,"v":15},{"i":416,"v":20},{"i":420,"v":12},{"i":424,"v":18},{"i":428,"v":16},{"i":432,"v":7},{"i":436,"v":11},{"i":440,"v":27},{"i":444,"v":15},{"i":448,"v":20},{"i":452,"v":13},{"i":456,"v":21},{"i":460,"v":16},{"i":464,"v":23},{"i":468,"v":14},{"i":472,"v":19},{"i":476,"v":11},{"i":480,"v":20},{"i":484,"v":14},{"i":488,"v":21},{"i":492,"v":13},{"i":496,"v":18},{"i":500,"v":15},{"i":504,"v":20},{"i":508,"v":13},{"i":512,"v":19},{"i":516,"v":14},{"i":520,"v":24},{"i":524,"v":15},{"i":528,"v":20},{"i":532,"v":13},{"i":536,"v":18},{"i":540,"v":15},{"i":544,"v":24},{"i":548,"v":11},{"i":552,"v":19},{"i":556,"v":13},{"i":560,"v":20},{"i":564,"v":14},{"i":568,"v":19},{"i":572,"v":11},{"i":576,"v":18},{"i":580,"v":15},{"i":584,"v":20},{"i":588,"v":14},{"i":592,"v":19},{"i":596,"v":13},{"i":600,"v":17},{"i":604,"v":16},{"i":608,"v":20},{"i":612,"v":14},{"i":616,"v":21},{"i":620,"v":13},{"i":624,"v":20},{"i":628,"v":15},{"i":632,"v":22},{"i":636,"v":13},{"i":640,"v":21},{"i":644,"v":16},{"i":648,"v":23},{"i":652,"v":24},{"i":656,"v":14},{"i":660,"v":23},{"i":664,"v":15},{"i":668,"v":21},{"i":672,"v":14},{"i":676,"v":19},{"i":680,"v":13},{"i":684,"v":20},{"i":688,"v":15},{"i":692,"v":19},{"i":696,"v":13},{"i":700,"v":18},{"i":704,"v":11},{"i":708,"v":19},{"i":712,"v":14},{"i":716,"v":21},{"i":720,"v":23},{"i":724,"v":13},{"i":728,"v":19},{"i":732,"v":11},{"i":736,"v":18},{"i":740,"v":14},{"i":744,"v":20},{"i":748,"v":16},{"i":752,"v":19},{"i":756,"v":13},{"i":760,"v":21},{"i":764,"v":15},{"i":768,"v":20},{"i":772,"v":12},{"i":776,"v":18},{"i":780,"v":22},{"i":784,"v":14},{"i":788,"v":20},{"i":792,"v":16},{"i":796,"v":21},{"i":800,"v":17}],
"aa":[{"lag":0,"r":1},{"lag":1,"r":0.23},{"lag":2,"r":0.055},{"lag":3,"r":0.065},{"lag":4,"r":0.1},{"lag":5,"r":0.075},{"lag":6,"r":0.055},{"lag":7,"r":0.08},{"lag":8,"r":0.035},{"lag":9,"r":0.025},{"lag":10,"r":0.018},{"lag":11,"r":0.01},{"lag":12,"r":0.025},{"lag":13,"r":0.085},{"lag":14,"r":-0.05},{"lag":15,"r":0.01},{"lag":16,"r":-0.02},{"lag":17,"r":-0.01},{"lag":18,"r":0.0},{"lag":19,"r":-0.02},{"lag":20,"r":0.0},{"lag":21,"r":0.025},{"lag":22,"r":0.035},{"lag":23,"r":-0.01},{"lag":24,"r":0.015},{"lag":25,"r":-0.045},{"lag":26,"r":-0.015},{"lag":27,"r":-0.015},{"lag":28,"r":-0.035},{"lag":29,"r":-0.07}],
"ab":[{"lag":0,"r":1},{"lag":1,"r":0.04},{"lag":2,"r":-0.04},{"lag":3,"r":0.065},{"lag":4,"r":0.005},{"lag":5,"r":0.015},{"lag":6,"r":0.025},{"lag":7,"r":-0.035},{"lag":8,"r":0.08},{"lag":9,"r":0.085},{"lag":10,"r":-0.005},{"lag":11,"r":0.005},{"lag":12,"r":0.03},{"lag":13,"r":-0.01},{"lag":14,"r":0.025},{"lag":15,"r":-0.005},{"lag":16,"r":0.04},{"lag":17,"r":-0.055},{"lag":18,"r":0.055},{"lag":19,"r":0.035},{"lag":20,"r":-0.01},{"lag":21,"r":-0.005},{"lag":22,"r":-0.03},{"lag":23,"r":-0.04},{"lag":24,"r":0.01},{"lag":25,"r":-0.03},{"lag":26,"r":-0.035},{"lag":27,"r":-0.03},{"lag":28,"r":-0.03},{"lag":29,"r":0.07}],
"ac":[{"lag":0,"r":1},{"lag":1,"r":0.035},{"lag":2,"r":0.0},{"lag":3,"r":-0.05},{"lag":4,"r":-0.045},{"lag":5,"r":-0.08},{"lag":6,"r":0.015},{"lag":7,"r":-0.02},{"lag":8,"r":0.025},{"lag":9,"r":0.015},{"lag":10,"r":-0.095},{"lag":11,"r":-0.02},{"lag":12,"r":0.005},{"lag":13,"r":-0.01},{"lag":14,"r":0.05},{"lag":15,"r":-0.01},{"lag":16,"r":0.0},{"lag":17,"r":0.045},{"lag":18,"r":-0.015},{"lag":19,"r":0.045},{"lag":20,"r":0.035},{"lag":21,"r":-0.055},{"lag":22,"r":0.005},{"lag":23,"r":0.05},{"lag":24,"r":-0.075},{"lag":25,"r":0.055},{"lag":26,"r":0.015},{"lag":27,"r":-0.045},{"lag":28,"r":-0.045},{"lag":29,"r":0.005}],
"ad":[{"lag":0,"r":1},{"lag":1,"r":0.12},{"lag":2,"r":-0.03},{"lag":3,"r":-0.03},{"lag":4,"r":-0.035},{"lag":5,"r":-0.035},{"lag":6,"r":-0.08},{"lag":7,"r":0.0},{"lag":8,"r":0.05},{"lag":9,"r":0.055},{"lag":10,"r":0.04},{"lag":11,"r":0.0},{"lag":12,"r":0.0},{"lag":13,"r":0.025},{"lag":14,"r":-0.08},{"lag":15,"r":0.02},{"lag":16,"r":0.04},{"lag":17,"r":-0.035},{"lag":18,"r":-0.03},{"lag":19,"r":-0.015},{"lag":20,"r":-0.005},{"lag":21,"r":0.05},{"lag":22,"r":-0.015},{"lag":23,"r":-0.01},{"lag":24,"r":-0.09},{"lag":25,"r":-0.035},{"lag":26,"r":0.055},{"lag":27,"r":0.015},{"lag":28,"r":0.015},{"lag":29,"r":-0.015}],
"ae":[{"lag":0,"r":1},{"lag":1,"r":0.17},{"lag":2,"r":0.055},{"lag":3,"r":-0.045},{"lag":4,"r":0.015},{"lag":5,"r":-0.06},{"lag":6,"r":0.03},{"lag":7,"r":0.08},{"lag":8,"r":0.035},{"lag":9,"r":-0.045},{"lag":10,"r":-0.02},{"lag":11,"r":-0.01},{"lag":12,"r":-0.05},{"lag":13,"r":-0.055},{"lag":14,"r":0.03},{"lag":15,"r":0.01},{"lag":16,"r":0.0},{"lag":17,"r":0.01},{"lag":18,"r":0.03},{"lag":19,"r":-0.045},{"lag":20,"r":-0.09},{"lag":21,"r":-0.105},{"lag":22,"r":-0.04},{"lag":23,"r":-0.06},{"lag":24,"r":0.02},{"lag":25,"r":-0.025},{"lag":26,"r":0.07},{"lag":27,"r":0.035},{"lag":28,"r":0.055},{"lag":29,"r":-0.075}],
"af":[{"lag":0,"r":1},{"lag":1,"r":-0.01},{"lag":2,"r":0.005},{"lag":3,"r":-0.03},{"lag":4,"r":0.035},{"lag":5,"r":0.025},{"lag":6,"r":0.01},{"lag":7,"r":0.005},{"lag":8,"r":-0.02},{"lag":9,"r":-0.02},{"lag":10,"r":-0.025},{"lag":11,"r":0.01},{"lag":12,"r":0.005},{"lag":13,"r":0.05},{"lag":14,"r":-0.015},{"lag":15,"r":-0.07},{"lag":16,"r":-0.01},{"lag":17,"r":0.0},{"lag":18,"r":-0.055},{"lag":19,"r":-0.03},{"lag":20,"r":-0.01},{"lag":21,"r":0.0},{"lag":22,"r":-0.045},{"lag":23,"r":0.01},{"lag":24,"r":0.025},{"lag":25,"r":0.02},{"lag":26,"r":-0.01},{"lag":27,"r":-0.02},{"lag":28,"r":0.01},{"lag":29,"r":-0.07}]
},
"config":{
"view":{"stroke":"black","strokeWidth":1},
"axis":{"grid":false,"domain":false,"ticks":true,"tickColor":"black","tickSize":4,"tickWidth":1,"labelColor":"black","titleColor":"black","labelFont":"Liberation Sans","titleFont":"Liberation Sans","titleFontWeight":"normal","labelOverlap":false,"labelFlush":false},
"axisX":{"labelFontSize":9.5,"titleFontSize":10,"labelPadding":7.5,"titlePadding":8},
"axisY":{"labelFontSize":7,"titleFontSize":7.5,"labelAngle":270,"labelAlign":"center","labelBaseline":"bottom","labelPadding":11,"titlePadding":18},
"title":{"font":"Liberation Serif","fontSize":24,"fontWeight":"normal","color":"black","subtitleFont":"DejaVu Serif","subtitleFontSize":21,"subtitleFontStyle":"italic","subtitleColor":"black","subtitlePadding":6}
}
}
